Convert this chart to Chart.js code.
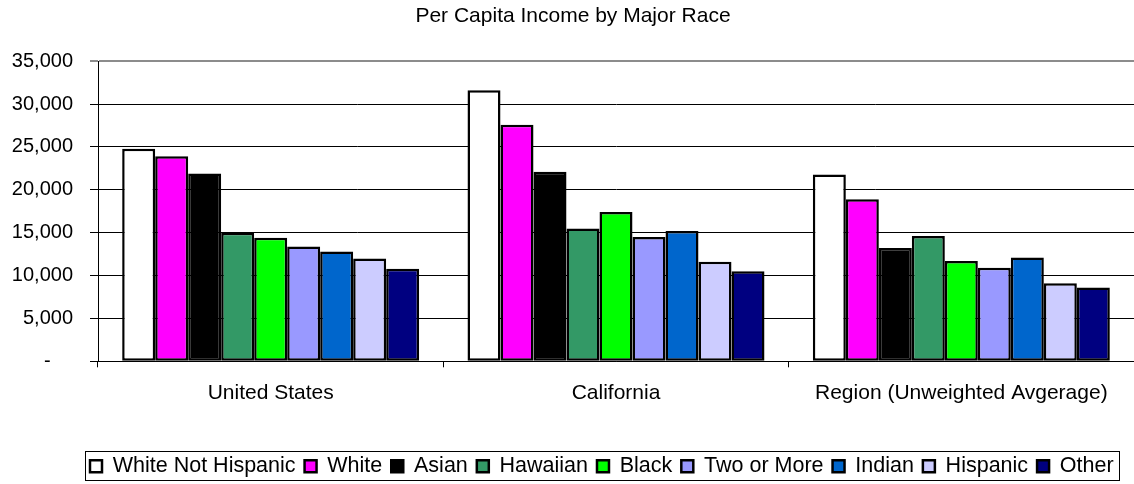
<!DOCTYPE html>
<html>
<head>
<meta charset="utf-8">
<script src="https://cdn.jsdelivr.net/npm/chart.js@4.4.0/dist/chart.umd.min.js"></script>
<style>
  html, body { margin: 0; padding: 0; background: #fff; overflow: hidden; }
  #wrap { width: 1134px; height: 484px; }
</style>
</head>
<body>
<div id="wrap"><canvas id="chartCanvas"></canvas></div>
<script>
const categories = ['United States', 'California', 'Region (Unweighted Avgerage)'];

const whiteNotHispanic = [24800, 31600, 21800];
const white = [23900, 27600, 18900];
const asian = [21900, 22100, 13200];
const hawaiian = [15000, 15500, 14600];
const black = [14400, 17400, 11700];
const twoOrMore = [13400, 14500, 10900];
const indian = [12800, 15200, 12100];
const hispanic = [12000, 11600, 9100];
const other = [10800, 10500, 8600];

const seriesNames = ['White Not Hispanic', 'White', 'Asian', 'Hawaiian', 'Black', 'Two or More', 'Indian', 'Hispanic', 'Other'];
const seriesValues = [whiteNotHispanic, white, asian, hawaiian, black, twoOrMore, indian, hispanic, other];
const seriesColors = ['#FFFFFF', '#FF00FF', '#000000', '#339966', '#00FF00', '#9999FF', '#0066CC', '#CCCCFF', '#000080'];

const yTicks = [0, 5000, 10000, 15000, 20000, 25000, 30000, 35000];

Chart.defaults.font.family = 'Arial, "Liberation Sans", sans-serif';
Chart.defaults.color = '#000';

// legend sits left of centre in the original, and has a box round it
const legendBox = {
  id: 'legendBox',
  afterLayout(chart) {
    const lg = chart.legend;
    const w = lg.width;
    lg.left = 81;
    lg.right = 81 + w;
    lg.top += 5;
    lg.bottom += 5;
  },
  afterDraw(chart) {
    const boxes = chart.legend.legendHitBoxes;
    if (!boxes || !boxes.length) return;
    const ctx = chart.ctx;
    const left = Math.round(boxes[0].left - 5);
    const last = boxes[boxes.length - 1];
    const right = Math.round(last.left + last.width + 5);
    const top = Math.round(boxes[0].top - 5);
    const bottom = Math.min(top + 30, chart.height - 4);
    ctx.save();
    ctx.strokeStyle = '#000';
    ctx.lineWidth = 1;
    ctx.strokeRect(left + 0.5, top + 0.5, right - left, bottom - top);
    ctx.restore();
  }
};

const ctx = document.getElementById('chartCanvas').getContext('2d');

new Chart(ctx, {
  type: 'bar',
  data: {
    labels: categories,
    datasets: seriesNames.map((name, i) => ({
      label: name,
      data: seriesValues[i],
      backgroundColor: seriesColors[i],
      borderColor: '#000',
      borderWidth: 2.5,
      borderSkipped: false
    }))
  },
  options: {
    responsive: true,
    maintainAspectRatio: false,
    animation: false,
    layout: {
      padding: { left: 12, right: 0, top: 0, bottom: 2 }
    },
    datasets: {
      bar: {
        categoryPercentage: 0.86,
        barPercentage: 1.0
      }
    },
    scales: {
      x: {
        offset: true,
        afterFit: (scale) => { scale.height += 23; },
        grid: {
          offset: true,
          drawOnChartArea: false,
          drawTicks: true,
          tickLength: 6,
          color: '#000'
        },
        border: { color: '#000', width: 1 },
        ticks: {
          font: { size: 21 },
          padding: 13
        }
      },
      y: {
        min: 0,
        max: 35000,
        afterBuildTicks: (axis) => {
          axis.ticks = yTicks.map(v => ({ value: v }));
        },
        afterFit: (scale) => { scale.width = 86; },
        grid: {
          color: (c) => c.tick && c.tick.value === 35000 ? '#8c8c8c' : '#000',
          lineWidth: (c) => c.tick && c.tick.value === 35000 ? 2 : 1,
          drawTicks: true,
          tickLength: 8
        },
        border: { color: '#000', width: 1 },
        ticks: {
          font: { size: 20 },
          padding: 17,
          callback: (value) => value === 0 ? '-    ' : value.toLocaleString('en-US')
        }
      }
    },
    plugins: {
      title: {
        display: true,
        text: 'Per Capita Income by Major Race',
        font: { size: 21, weight: 'normal' },
        color: '#000',
        padding: { top: 4, bottom: 32 }
      },
      legend: {
        display: true,
        position: 'bottom',
        align: 'start',
        labels: {
          boxWidth: 12,
          boxHeight: 12,
          padding: 9,
          font: { size: 21.5 },
          color: '#000',
          useBorderRadius: false
        }
      },
      tooltip: { enabled: false }
    }
  },
  plugins: [legendBox]
});
</script>
</body>
</html>
